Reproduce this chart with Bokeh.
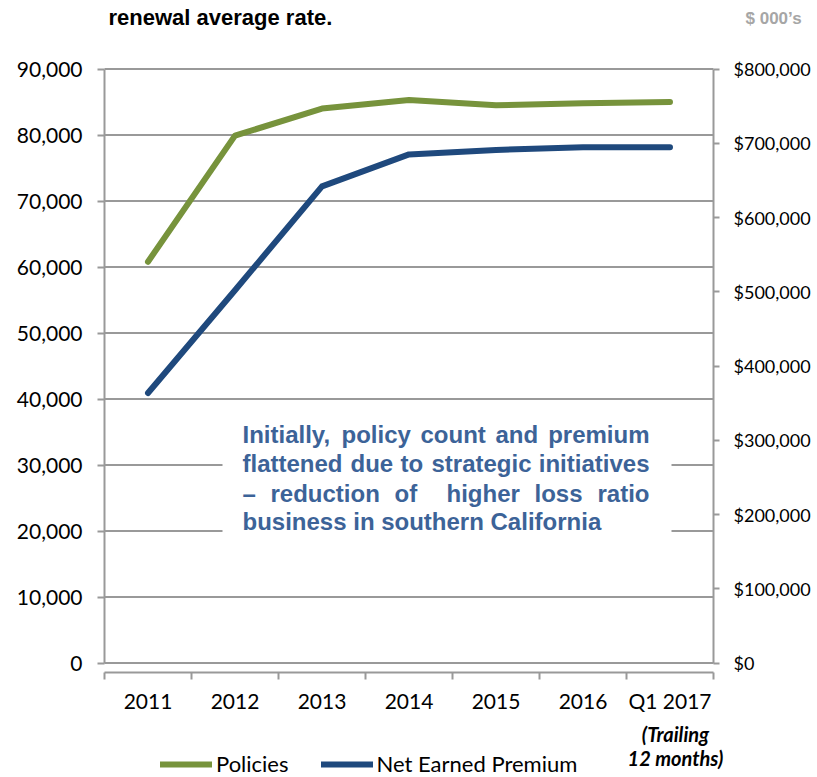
from bokeh.plotting import figure
from bokeh.models import (Range1d, FactorRange, LinearAxis, FixedTicker, NumeralTickFormatter,
                          Label, BoxAnnotation, Legend, LegendItem)
from bokeh.embed import file_html
from bokeh.resources import INLINE

# ---------------- data ----------------
categories = ["2011", "2012", "2013", "2014", "2015", "2016", "Q1 2017"]
policies = [60800, 79900, 84000, 85300, 84500, 84800, 85000]
net_earned_premium = [363600, 502000, 642000, 685000, 691000, 694500, 694500]
left_ticks = [0, 10000, 20000, 30000, 40000, 50000, 60000, 70000, 80000, 90000]
right_ticks = [0, 100000, 200000, 300000, 400000, 500000, 600000, 700000, 800000]

title_text = "renewal average rate."
units_text = "$ 000\u2019s"
trailing_lines = ["(Trailing", "12 months)"]
note_lines = [
    ["Initially,", "policy", "count", "and", "premium"],
    ["flattened", "due", "to", "strategic", "initiatives"],
    ["\u2013", "reduction", "of", "higher", "loss", "ratio"],
    ["business in southern California"],
]

GREEN = "#77933C"
BLUE = "#1F497D"
GRID = "#999999"
NOTE = "#3C6398"
FONT = "Lato"

W, H = 817, 777
NCAT = len(categories)
LEFT_MAX = 90000
RIGHT_MAX = 800000
RATIO = RIGHT_MAX / LEFT_MAX

# layout (page pixels) of the plotting area
PLOT_L, CAT_W = 104, 87          # first category boundary, width of one category
Y_TOP, Y_ZERO = 68.5, 662.5      # pixel rows of 90,000 and 0
PX_PER_UNIT = (Y_ZERO - Y_TOP) / LEFT_MAX
X_AXIS_Y = 672                   # the category axis sits a little below the zero line


def val_at(py):
    """left-axis value found at page row py"""
    return (Y_ZERO - py) / PX_PER_UNIT


def cx(px):
    """page column -> synthetic categorical coordinate"""
    return (px - PLOT_L) / CAT_W


pad = PLOT_L / CAT_W
p = figure(
    x_range=FactorRange(factors=categories, range_padding=pad, range_padding_units="absolute"),
    y_range=Range1d(val_at(H), val_at(0)),
    frame_width=W, frame_height=H,
    min_border=0, min_border_left=0, min_border_right=0, min_border_top=0, min_border_bottom=0,
    output_backend="svg", toolbar_location=None,
    x_axis_location=None, y_axis_location=None,
)
p.outline_line_color = None
p.background_fill_color = "white"
p.border_fill_color = "white"
p.xgrid.visible = False
p.ygrid.visible = False

p.extra_y_ranges = {
    "r": Range1d(val_at(H) * RATIO, val_at(0) * RATIO),
    "py": Range1d(H, 0),
}

# horizontal grid lines at the left-axis ticks, spanning the categories
p.segment(x0=[0] * len(left_ticks), x1=[NCAT] * len(left_ticks), y0=left_ticks, y1=left_ticks,
          line_color=GRID, line_width=2)


def style_axis(ax, size):
    ax.axis_line_color = GRID
    ax.axis_line_width = 2
    ax.major_tick_line_color = GRID
    ax.major_tick_line_width = 2
    ax.major_tick_in = 0
    ax.minor_tick_line_color = None
    ax.major_label_text_font = FONT
    ax.major_label_text_font_size = size
    ax.major_label_text_color = "black"


# left axis
ya = LinearAxis(ticker=FixedTicker(ticks=left_ticks), formatter=NumeralTickFormatter(format="0,0"),
                fixed_location=0, bounds=(0, LEFT_MAX))
style_axis(ya, "21px")
ya.major_tick_out = 7
ya.major_label_standoff = 15
p.add_layout(ya, "left")

# right axis
ra = LinearAxis(y_range_name="r", ticker=FixedTicker(ticks=right_ticks),
                formatter=NumeralTickFormatter(format="$0,0"),
                fixed_location=NCAT, bounds=(0, RIGHT_MAX))
style_axis(ra, "18px")
ra.major_tick_out = 6
ra.major_label_standoff = 14
p.add_layout(ra, "right")

# category axis: tick marks at category boundaries, labels at centres
centres = [i + 0.5 for i in range(NCAT)]
bounds = [float(i) for i in range(NCAT + 1)]
xa = LinearAxis(ticker=FixedTicker(ticks=centres, minor_ticks=bounds),
                major_label_overrides={c: lab for c, lab in zip(centres, categories)},
                fixed_location=val_at(X_AXIS_Y), bounds=(0, NCAT))
style_axis(xa, "21px")
xa.major_tick_line_color = None
xa.major_tick_out = 0
xa.minor_tick_line_color = GRID
xa.minor_tick_line_width = 2
xa.minor_tick_out = 7
xa.minor_tick_in = 0
xa.major_label_standoff = 8
p.add_layout(xa, "below")

# data lines
r_pol = p.line(x=categories, y=policies, line_color=GREEN, line_width=6, line_cap="round",
               line_join="round")
r_nep = p.line(x=categories, y=net_earned_premium, y_range_name="r", line_color=BLUE,
               line_width=6, line_cap="round", line_join="round")

# white box behind the note
p.add_layout(BoxAnnotation(left=cx(222), right=cx(671), top=410, bottom=550,
                           y_range_name="py",
                           fill_color="white", fill_alpha=1.0, line_alpha=0))

# note text, justified word by word (last word of a justified line is right-aligned)
note_y = [434, 463, 493, 521]
note_x = [
    [242, 341, 420, 495, 649],
    [242, 350, 400, 431, 649],
    [242, 270, 394, 446, 534, 649],
    [242],
]
for words, xs, y in zip(note_lines, note_x, note_y):
    n = len(words)
    for k, (w, x) in enumerate(zip(words, xs)):
        align = "right" if (k == n - 1 and n > 1) else "left"
        p.add_layout(Label(x=cx(x), y=y, y_range_name="py", text=w,
                           text_align=align, text_baseline="middle",
                           text_font="Liberation Sans", text_font_style="bold",
                           text_font_size="24px", text_color=NOTE))

# trailing 12 months note
for t, y in zip(trailing_lines, [733, 757]):
    p.add_layout(Label(x=cx(675), y=y, y_range_name="py", text=t,
                       text_align="center", text_baseline="middle", text_font=FONT,
                       text_font_style="bold italic", text_font_size="20px",
                       text_color="black"))

# slide title (top) and units
p.add_layout(Label(x=cx(108), y=17, y_range_name="py", text=title_text,
                   text_align="left", text_baseline="alphabetic",
                   text_font="Liberation Sans", text_font_style="bold",
                   text_font_size="22px", text_color="black"))
p.add_layout(Label(x=cx(745), y=18, y_range_name="py", text=units_text,
                   text_align="left", text_baseline="middle",
                   text_font="Liberation Sans", text_font_style="bold",
                   text_font_size="17px", text_color="#A6A6A6"))

# legend
legend = Legend(items=[LegendItem(label="Policies", renderers=[r_pol]),
                       LegendItem(label="Net Earned Premium", renderers=[r_nep])],
                orientation="horizontal", location=(160, 0),
                padding=0, margin=0, spacing=32, label_standoff=4,
                glyph_width=52, glyph_height=20, label_height=20,
                label_text_font=FONT, label_text_font_size="22px",
                label_text_color="black", border_line_color=None,
                background_fill_alpha=0)
p.add_layout(legend)

open("out.html", "w").write(file_html(p, INLINE))
